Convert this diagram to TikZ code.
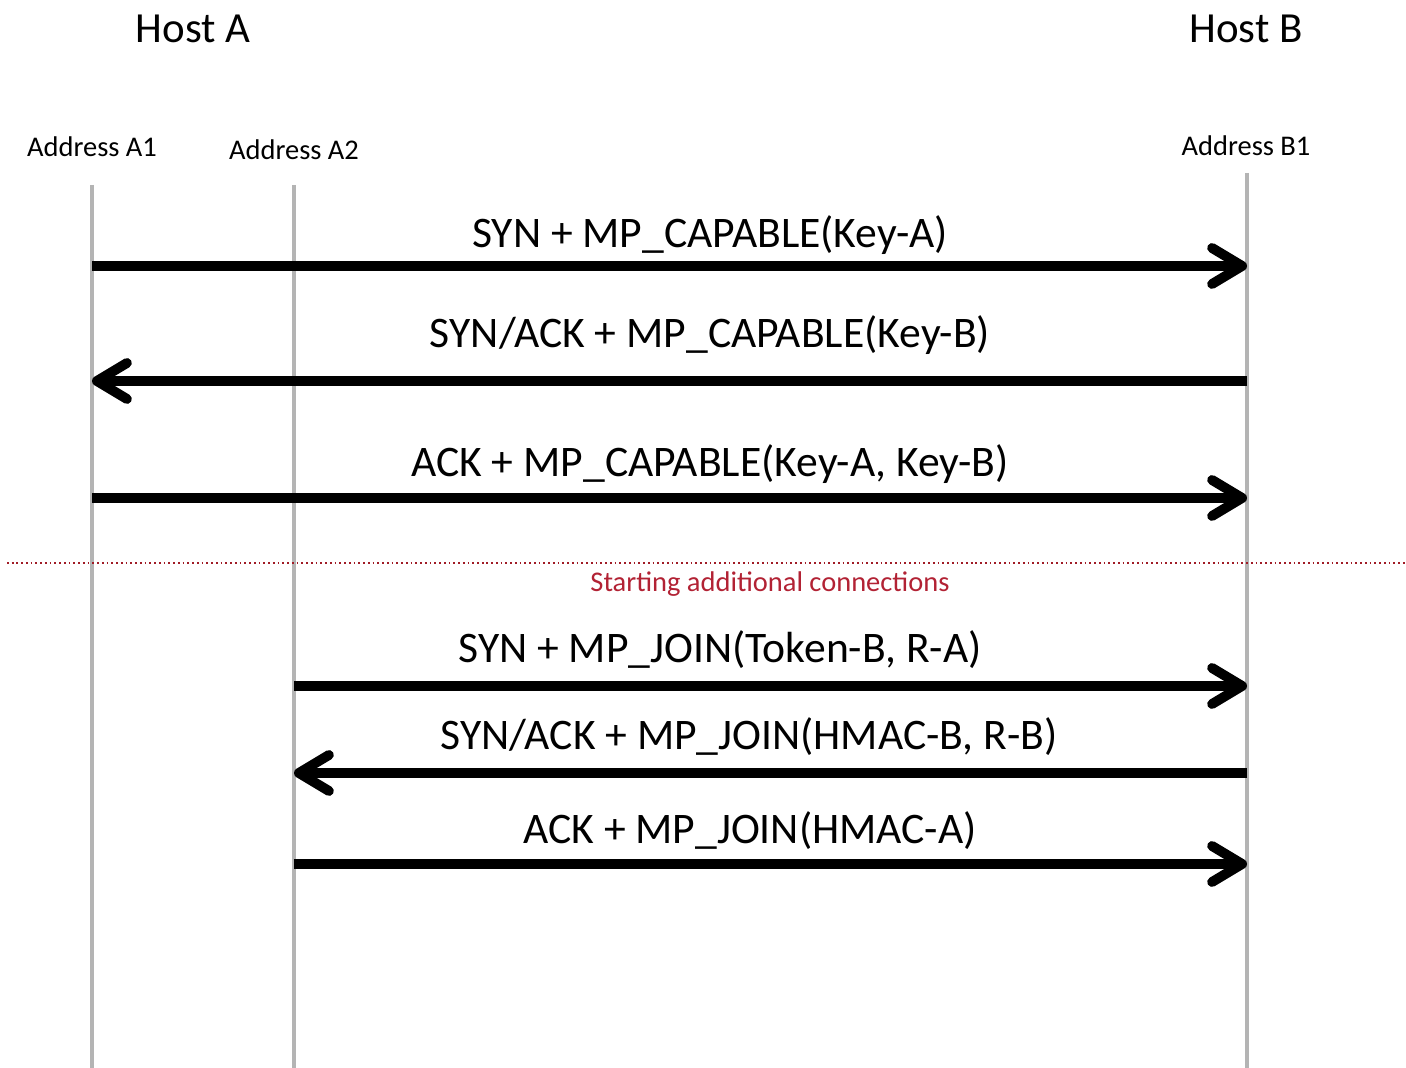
\documentclass[tikz,border=0pt]{standalone}
\usepackage{fontspec}
\setmainfont{Carlito}
\usetikzlibrary{arrows.meta}
\definecolor{lifegray}{RGB}{180,180,180}
\definecolor{sepred}{RGB}{160,28,38}
\definecolor{labred}{RGB}{178,34,52}
\begin{document}
\begin{tikzpicture}[x=0.01cm,y=-0.01cm,
  host/.style={font=\fontsize{12.2}{14}\selectfont, anchor=base, inner sep=0pt},
  addr/.style={font=\fontsize{8.1}{10}\selectfont, anchor=base, inner sep=0pt},
  msg/.style={font=\fontsize{12.4}{14}\selectfont, anchor=base, inner sep=0pt},
  lifeline/.style={draw=lifegray, line width=1.4pt},
  msgarrow/.style={line width=2.8pt, -{Straight Barb[length=3mm,width=3.6mm,round]}},
  sepline/.style={draw=sepred, line width=0.7pt, dash pattern=on 0.5pt off 0.85pt}
]
\useasboundingbox (0,0) rectangle (1406,1068);

% hosts and addresses
\node[host] (hostA) at (193,43) {Host A};
\node[host] (hostB) at (1246,43) {Host B};
\node[addr] (addrA1) at (92,157) {Address A1};
\node[addr] (addrA2) at (294,160) {Address A2};
\node[addr] (addrB1) at (1246,156) {Address B1};

% lifelines
\coordinate (A1top) at (92,185);  \coordinate (A1bot) at (92,1068);
\coordinate (A2top) at (294,185); \coordinate (A2bot) at (294,1068);
\coordinate (B1top) at (1247,173); \coordinate (B1bot) at (1247,1068);
\draw[lifeline] (A1top) -- (A1bot);
\draw[lifeline] (A2top) -- (A2bot);
\draw[lifeline] (B1top) -- (B1bot);

% message endpoints
\coordinate (m1a) at (92,266);  \coordinate (m1b) at (1247,266);
\coordinate (m2a) at (92,381);  \coordinate (m2b) at (1247,381);
\coordinate (m3a) at (92,498);  \coordinate (m3b) at (1247,498);
\coordinate (m4a) at (294,686); \coordinate (m4b) at (1247,686);
\coordinate (m5a) at (294,773); \coordinate (m5b) at (1247,773);
\coordinate (m6a) at (294,864); \coordinate (m6b) at (1247,864);

\draw[msgarrow] (m1a) -- (m1b);
\draw[msgarrow] (m2b) -- (m2a);
\draw[msgarrow] (m3a) -- (m3b);
\draw[msgarrow] (m4a) -- (m4b);
\draw[msgarrow] (m5b) -- (m5a);
\draw[msgarrow] (m6a) -- (m6b);

% message labels
\node[msg] (l1) at (710,248) {SYN + MP\_CAPABLE(Key-A)};
\node[msg] (l2) at (710,348) {SYN/ACK + MP\_CAPABLE(Key-B)};
\node[msg] (l3) at (710,477) {ACK + MP\_CAPABLE(Key-A, Key-B)};
\node[msg] (l4) at (720,663) {SYN + MP\_JOIN(Token-B, R-A)};
\node[msg] (l5) at (749,750) {SYN/ACK + MP\_JOIN(HMAC-B, R-B)};
\node[msg] (l6) at (750,844) {ACK + MP\_JOIN(HMAC-A)};

% separator
\coordinate (sepL) at (7,563); \coordinate (sepR) at (1406,563);
\draw[sepline] (sepL) -- (sepR);
\node[addr, text=labred] (seplabel) at (770,592) {Starting additional connections};
\end{tikzpicture}
\end{document}
